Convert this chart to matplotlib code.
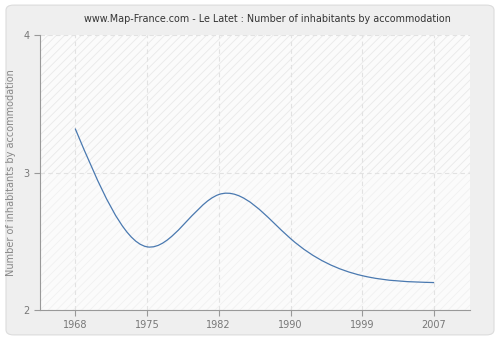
import numpy as np
import matplotlib
matplotlib.use("Agg")
import matplotlib.pyplot as plt
from matplotlib.path import Path
from matplotlib.patches import PathPatch, FancyBboxPatch, Rectangle

years = ["1968", "1975", "1982", "1990", "1999", "2007"]
values = [3.32, 2.46, 2.84, 2.52, 2.25, 2.20]
y_ticks = [2, 3, 4]

title = "www.Map-France.com - Le Latet : Number of inhabitants by accommodation"
ylabel = "Number of inhabitants by accommodation"

plt.rcParams["font.family"] = "DejaVu Sans"

fig = plt.figure(figsize=(5, 3.4), dpi=100)
fig.patch.set_facecolor("white")
# rounded grey panel behind everything
panel = FancyBboxPatch((0.012, 0.015), 0.976, 0.97, boxstyle="round,pad=0,rounding_size=0.015",
                       transform=fig.transFigure, facecolor="#efefef", edgecolor="#dcdcdc", lw=0.8, zorder=-10)
fig.patches.append(panel)

ax = fig.add_axes([0.08, 0.088, 0.86, 0.809])
ax.set_facecolor("#fbfbfb")
xs = np.arange(len(years))

# faint hatched background, a bit stronger above the middle line
plt.rcParams["hatch.linewidth"] = 0.6
ax.add_patch(Rectangle((-0.5, 3), 6, 1, facecolor="none", edgecolor="#e9e9e9", hatch="////", lw=0, zorder=0))
ax.add_patch(Rectangle((-0.5, 2), 6, 1, facecolor="none", edgecolor="#f1f1f1", hatch="////", lw=0, zorder=0))

# smooth curve through the points: natural spline slopes, drawn as Bezier segments
y = np.array(values, dtype=float)
n = len(y)
A = np.zeros((n, n))
b = np.zeros(n)
A[0, 0], A[0, 1], b[0] = 2, 1, 3 * (y[1] - y[0])
A[-1, -2], A[-1, -1], b[-1] = 1, 2, 3 * (y[-1] - y[-2])
for i in range(1, n - 1):
    A[i, i - 1], A[i, i], A[i, i + 1] = 1, 4, 1
    b[i] = 3 * (y[i + 1] - y[i - 1])
d = np.linalg.solve(A, b)
verts = [(xs[0], y[0])]
codes = [Path.MOVETO]
for i in range(n - 1):
    verts += [(xs[i] + 1 / 3, y[i] + d[i] / 3), (xs[i + 1] - 1 / 3, y[i + 1] - d[i + 1] / 3), (xs[i + 1], y[i + 1])]
    codes += [Path.CURVE4] * 3
ax.add_patch(PathPatch(Path(verts, codes), facecolor="none", edgecolor="#4a79b0", lw=0.9, zorder=3))

ax.set_xlim(-0.49, 5.5)
ax.set_ylim(2, 4)
ax.set_xticks(xs)
ax.set_xticklabels(years)
ax.set_yticks(y_ticks)
ax.grid(True, color="#e2e2e2", linestyle=(0, (4, 3)), lw=0.8)
ax.set_axisbelow(True)

for s in ["top", "right"]:
    ax.spines[s].set_visible(False)
for s in ["left", "bottom"]:
    ax.spines[s].set_color("#999999")
ax.tick_params(colors="#999999", labelcolor="#777777", labelsize=7, length=4, width=0.8)
ax.tick_params(axis="x", pad=3)

ax.set_ylabel(ylabel, color="#888888", fontsize=7, labelpad=5)
fig.text(0.534, 0.945, title, ha="center", va="center", fontsize=6.9, color="#333333")

fig.savefig("out.png", dpi=100)
